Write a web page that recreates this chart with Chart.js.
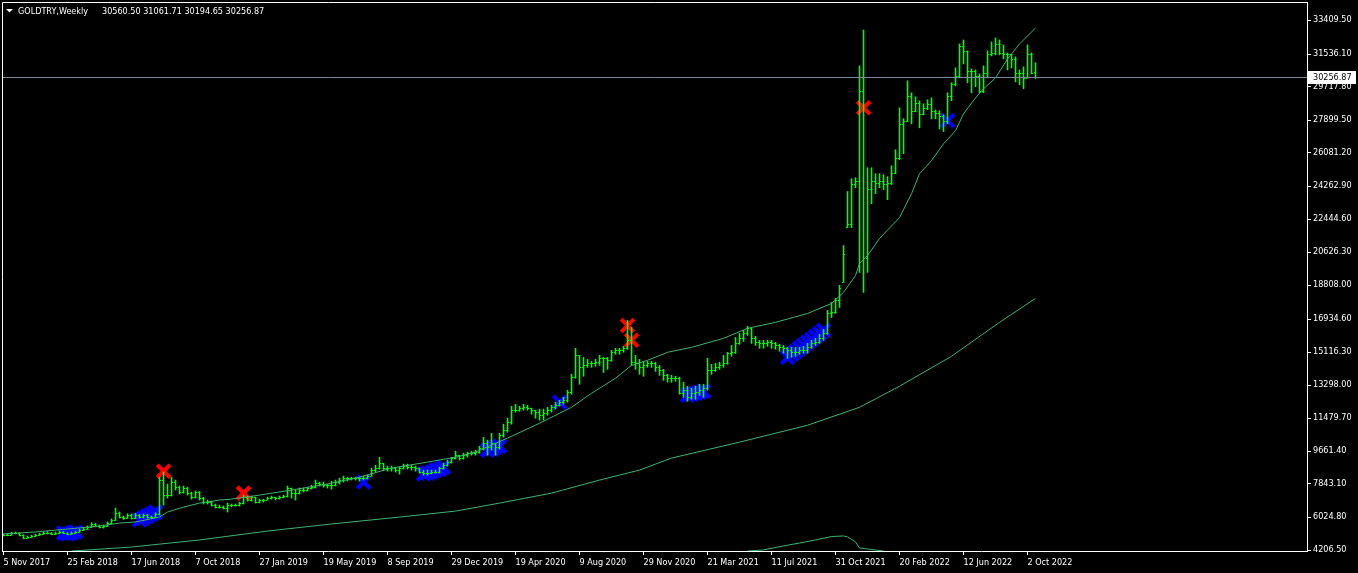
<!DOCTYPE html>
<html>
<head>
<meta charset="utf-8">
<title>GOLDTRY,Weekly</title>
<script src="https://cdn.jsdelivr.net/npm/chart.js@4.4.1/dist/chart.umd.min.js"></script>
<style>
html,body{margin:0;padding:0;background:#000;overflow:hidden;}
canvas{display:block;}
</style>
</head>
<body>
<canvas id="chart" width="1358" height="573"></canvas>
<script>
const symbolName = "GOLDTRY,Weekly";
const lastBarQuote = ["30560.50", "31061.71", "30194.65", "30256.87"];

const dateLabels = ["5 Nov 2017","25 Feb 2018","17 Jun 2018","7 Oct 2018","27 Jan 2019","19 May 2019","8 Sep 2019","29 Dec 2019","19 Apr 2020","9 Aug 2020","29 Nov 2020","21 Mar 2021","11 Jul 2021","31 Oct 2021","20 Feb 2022","12 Jun 2022","2 Oct 2022"];
const dateLabelIdx = [0,16,32,48,64,80,96,112,128,144,160,176,192,208,224,240,256];

const priceTicks = [4206.5,6024.8,7843.1,9661.4,11479.7,13298.0,15116.3,16934.6,18808.0,20626.3,22444.6,24262.9,26081.2,27899.5,29717.8,31536.1,33409.5];

const opens = [5000,5030,5030,5140,5140,5030,4870,4920,4980,5030,
5090,5140,5140,5090,5140,5200,5140,5090,5140,5200,
5310,5360,5470,5640,5530,5470,5530,5690,5860,6240,
6020,5970,6130,5970,6130,6020,6130,6020,6020,6190,
8060,7230,7230,7950,7670,7400,7620,7340,7120,7400,
7070,6850,6850,6680,6570,6570,6520,6680,6680,6680,
6790,7120,6960,7120,6850,6960,6960,7070,7120,7070,
7120,7180,7620,7340,7340,7510,7510,7620,7670,7890,
7840,7780,7780,7780,7950,8060,8170,8170,8170,8170,
8170,8170,8280,8610,8720,8990,8720,8720,8720,8610,
8720,8830,8770,8770,8720,8500,8440,8440,8500,8500,
8720,8880,9050,9270,9430,9270,9430,9540,9540,9600,
9820,10090,9870,10090,9870,10530,10810,11250,11910,11910,
12020,12070,12020,11910,11800,11630,11740,11910,12070,12180,
12350,12460,12900,13720,14930,14270,14380,14490,14490,14550,
14770,14770,14660,15100,15210,15210,15320,15760,14550,14490,
14270,14380,14490,14490,14270,14110,13830,13670,13670,13670,
12840,13010,12620,12840,12900,13010,13120,14110,14110,14270,
14380,14490,15040,15100,15590,15870,16140,16420,15870,15650,
15590,15590,15650,15590,15480,15370,15320,15210,15100,15100,
15210,15210,15370,15590,15650,15870,16140,17240,17300,17960,
18950,22000,22190,24390,24560,29510,20320,24120,24560,24450,
24560,24390,24450,25000,25820,27690,27860,29230,28410,28850,
28240,28570,28790,28410,28300,28130,27860,29230,29890,30330,
31980,31710,30610,30610,30330,29510,30500,31540,31600,32090,
31600,31540,31540,31270,30500,30500,30220,31540,30560.50];

const highs = [5090,5100,5190,5200,5160,5050,4980,5020,5070,5130,
5200,5220,5170,5190,5260,5230,5170,5200,5250,5360,
5420,5530,5710,5670,5580,5580,5750,5920,6520,6300,
6080,6200,6190,6220,6160,6190,6170,6080,6260,8220,
8500,7840,8220,8060,7730,7730,7670,7400,7460,7430,
7120,6960,6900,6740,6680,6630,6790,6740,6740,6850,
7230,7180,7180,7120,7010,7010,7120,7180,7120,7180,
7230,7730,7620,7510,7620,7620,7670,7780,8060,7950,
7950,7840,8000,8060,8170,8280,8220,8220,8220,8220,
8280,8330,8720,8880,9320,8990,8830,8830,8770,8770,
8940,8940,8880,8830,8720,8610,8610,8610,8610,8770,
8990,9160,9320,9650,9430,9540,9600,9650,9710,9930,
10420,10260,10640,10090,10640,11140,11470,12130,12240,12130,
12240,12180,12020,11910,11970,11970,12070,12180,12350,12460,
12620,13010,13890,15320,14930,14820,14710,14600,14710,14930,
14820,14820,15210,15320,15320,15430,16860,16470,14930,14710,
14600,14600,14600,14550,14380,14160,13890,13830,13780,13730,
13450,13230,13120,13230,13340,13340,14770,14440,14490,14550,
14930,15100,15480,15920,16140,16310,16530,16420,15980,15760,
15760,15760,15760,15650,15540,15480,15370,15370,15370,15370,
15430,15590,15760,15870,16090,16360,17410,17850,18070,18790,
20980,23960,24660,24720,30880,32860,25270,25270,24940,24940,
24890,24780,25380,26260,28570,27970,30060,29400,29180,28960,
28790,29010,29120,28460,28410,28190,29400,29950,30770,32090,
32310,31710,30710,30660,30440,30880,31710,32200,32420,32310,
32030,31600,31540,31380,30660,30830,32040,31600,31061.71];

const lows = [4980,4990,5010,5090,4980,4820,4840,4900,4950,5000,
5060,5090,5040,5060,5110,5100,5040,5060,5110,5170,
5270,5330,5440,5480,5420,5410,5500,5660,5830,5970,
5890,5940,5910,5940,5960,5970,5960,5940,5990,6130,
6680,7070,7180,7510,7290,7340,7230,7010,7070,6960,
6740,6740,6630,6520,6520,6460,6300,6580,6620,6630,
6740,6900,6900,6790,6800,6850,6960,7010,6960,7010,
7070,7120,7070,6960,7290,7400,7450,7560,7620,7730,
7670,7620,7560,7730,7840,7950,8010,8060,8060,8000,
8060,8110,8270,8500,8660,8610,8550,8550,8500,8390,
8660,8660,8610,8550,8440,8330,8330,8390,8440,8440,
8660,8830,8990,9210,9160,9210,9320,9430,9430,9540,
9710,9430,9710,9430,9760,10420,10700,11140,11800,11850,
11910,11910,11690,11470,11360,11360,11630,11800,11970,12130,
12240,12350,12790,13670,13340,13780,14270,14270,14330,14380,
13990,14160,14600,14990,14990,15100,15260,14380,14160,13890,
13780,14270,14270,14050,13830,13560,13450,13450,13510,12790,
12620,12400,12510,12510,12730,12620,13010,13890,14050,14160,
14270,14440,14880,15040,15540,15700,16030,15590,15480,15320,
15320,15430,15320,15270,15160,15050,14770,14820,14880,14990,
15050,15050,15320,15480,15590,15760,16090,17020,17240,17570,
18950,21970,21970,24170,19500,18400,19500,23290,23840,24170,
24060,23510,24340,24940,25710,26040,27800,27690,28350,27470,
28180,28470,27960,27960,27400,27260,27690,28960,29780,30220,
30990,29950,29400,29730,29400,29400,30220,31430,31490,31490,
31270,30660,30770,30000,29840,29620,30220,30440,30194.65];

const closes = [5030,5030,5140,5140,5030,4870,4920,4980,5030,5090,
5140,5140,5090,5140,5200,5140,5090,5140,5200,5310,
5360,5470,5640,5530,5470,5530,5690,5860,6240,6020,
5970,6130,5970,6130,6020,6130,6020,6020,6190,8060,
7230,7230,7950,7670,7400,7620,7340,7120,7400,7070,
6850,6850,6680,6570,6570,6520,6680,6680,6680,6790,
7120,6960,7120,6850,6960,6960,7070,7120,7070,7120,
7180,7620,7340,7340,7510,7510,7620,7670,7890,7840,
7780,7780,7780,7950,8060,8170,8170,8170,8170,8170,
8170,8280,8610,8720,8990,8720,8720,8720,8610,8720,
8830,8770,8770,8720,8500,8440,8440,8500,8500,8720,
8880,9050,9270,9430,9270,9430,9540,9540,9600,9820,
10090,9870,10090,9870,10530,10810,11250,11910,11910,12020,
12070,12020,11910,11800,11630,11740,11910,12070,12180,12350,
12460,12900,13720,14930,14270,14380,14490,14490,14550,14770,
14770,14660,15100,15210,15210,15320,15760,14550,14490,14270,
14380,14490,14490,14270,14110,13830,13670,13670,13670,12840,
13010,12620,12840,12900,13010,13120,14110,14110,14270,14380,
14490,15040,15100,15590,15870,16140,16420,15870,15650,15590,
15590,15650,15590,15480,15370,15320,15210,15100,15100,15210,
15210,15370,15590,15650,15870,16140,17240,17300,17960,18620,
20540,22190,24390,24560,29510,20320,24120,24560,24450,24560,
24390,24450,25000,25820,27690,27860,29230,28410,28850,28240,
28570,28790,28410,28300,28130,27860,29230,29890,30330,31980,
31710,30610,30610,30330,29510,30500,31540,31600,32090,31600,
31540,31540,31270,30500,30500,30220,31540,30500,30256.87];

// moving averages (bar index -> value)
const maFastIdx = [0,8,16,24,29,33,39,41,45,49,54,57,64,72,81,89,97,106,113,118,126,134,142,147,153,157,161,166,172,180,186,193,201,207,210,213,214,216,219,224,227,229,232,235,238,240,243,245,248,251,254,258];
const maFastVal = [5090,5200,5360,5530,5690,5750,6020,6300,6570,6790,6960,7010,7230,7510,7840,8220,8720,9050,9320,9600,10370,11190,12070,12840,13670,14380,14660,15100,15370,15870,16420,16750,17240,17790,18400,19330,19990,20430,21370,22520,23840,24940,25660,26590,27310,28240,29120,29620,30220,31270,32090,32970];

const maSlowIdx = [17,32,49,66,82,99,113,124,137,149,159,167,184,201,214,224,237,249,258];
const maSlowVal = [4150,4370,4760,5250,5640,6020,6350,6790,7340,8060,8610,9270,10150,11080,12070,13230,14880,16750,18070];

const maLowIdx = [186,190,195,199,203,207,210,211,213,214,216,220];
const maLowVal = [4150,4210,4430,4590,4760,4950,4980,4930,4650,4320,4260,4150];

// arrow objects
const redIdx = [40,60,156,157,215];
const redVal = [8550,7340,16580,15760,28570];
const blueIdx = [15,16,17,18,34,35,36,37,38,90,105,106,107,108,109,110,121,122,123,124,139,171,172,173,174,175,196,197,198,199,200,201,202,203,204,205,236];
const blueVal = [5140,5090,5140,5200,5860,5970,6080,6190,6300,7950,8390,8440,8500,8610,8660,8770,9710,9760,9870,9930,12350,12730,12790,12840,12900,12950,14820,14990,15150,15320,15480,15650,15810,15980,16140,16310,27860];

const FONT = "'DejaVu Sans Condensed','DejaVu Sans','Liberation Sans',sans-serif";
const barColor = '#14f014';
const maColor = '#3cb371';
const lastPrice = closes[closes.length - 1];

const bgPlugin = {
  id: 'bg',
  beforeDraw(chart) {
    const ctx = chart.ctx;
    ctx.save();
    ctx.fillStyle = '#000';
    ctx.fillRect(0, 0, chart.width, chart.height);
    ctx.restore();
  },
  afterDatasetsDraw(chart) {
    const { ctx, chartArea, scales: { y } } = chart;
    const py = Math.round(y.getPixelForValue(lastPrice)) + 0.5;
    ctx.save();
    ctx.strokeStyle = '#778899';
    ctx.lineWidth = 1;
    ctx.beginPath();
    ctx.moveTo(chartArea.left, py);
    ctx.lineTo(chartArea.right, py);
    ctx.stroke();
    ctx.restore();
  }
};

const ohlcTicks = {
  id: 'ohlcTicks',
  afterDatasetDraw(chart, args) {
    if (args.meta.type !== 'bar') return;
    const { ctx, chartArea, scales: { x, y } } = chart;
    ctx.save();
    ctx.beginPath();
    ctx.rect(chartArea.left, chartArea.top, chartArea.width, chartArea.height);
    ctx.clip();
    ctx.fillStyle = barColor;
    for (let i = 0; i < closes.length; i++) {
      const px = Math.floor(x.getPixelForValue(i));
      const yo = Math.round(y.getPixelForValue(opens[i]));
      const yc = Math.round(y.getPixelForValue(closes[i]));
      ctx.fillRect(px - 1, yo, 1, 1);
      ctx.fillRect(px + 1, yc, 1, 1);
    }
    ctx.restore();
  }
};

const framePlugin = {
  id: 'frame',
  afterDraw(chart) {
    const { ctx, chartArea, scales: { y } } = chart;
    ctx.save();
    ctx.strokeStyle = '#ffffff';
    ctx.lineWidth = 1;
    ctx.beginPath();
    ctx.moveTo(chartArea.left + 0.5, chartArea.bottom);
    ctx.lineTo(chartArea.left + 0.5, chartArea.top + 0.5);
    ctx.lineTo(chartArea.right, chartArea.top + 0.5);
    ctx.stroke();

    // current price box on the axis
    const py = Math.round(y.getPixelForValue(lastPrice));
    ctx.fillStyle = '#ffffff';
    ctx.fillRect(chartArea.right + 1, py - 6, 48, 13);
    ctx.fillStyle = '#000000';
    ctx.font = '9px ' + FONT;
    ctx.textBaseline = 'middle';
    ctx.textAlign = 'left';
    ctx.fillText(lastPrice.toFixed(2), chartArea.right + 6, py + 0.5);

    // title
    ctx.fillStyle = '#ffffff';
    ctx.beginPath();
    ctx.moveTo(6, 9);
    ctx.lineTo(13, 9);
    ctx.lineTo(9.5, 12.5);
    ctx.closePath();
    ctx.fill();
    ctx.textBaseline = 'alphabetic';
    ctx.fillText(symbolName, 18, 14);
    ctx.fillText(lastBarQuote.join(' '), 102, 14);
    ctx.restore();
  }
};

const chart = new Chart(document.getElementById('chart'), {
  type: 'bar',
  data: {
    datasets: [
      {
        type: 'bar', label: 'GOLDTRY',
        data: closes.map((c, i) => ({ x: i, y: [lows[i], highs[i]] })),
        backgroundColor: barColor, borderWidth: 0, barThickness: 1, grouped: false, order: 5
      },
      {
        type: 'line', label: 'MA fast',
        data: maFastIdx.map((v, k) => ({ x: v, y: maFastVal[k] })),
        borderColor: maColor, borderWidth: 1, pointRadius: 0, tension: 0, fill: false, order: 1
      },
      {
        type: 'line', label: 'MA slow',
        data: maSlowIdx.map((v, k) => ({ x: v, y: maSlowVal[k] })),
        borderColor: maColor, borderWidth: 1, pointRadius: 0, tension: 0, fill: false, order: 1
      },
      {
        type: 'line', label: 'MA low',
        data: maLowIdx.map((v, k) => ({ x: v, y: maLowVal[k] })),
        borderColor: maColor, borderWidth: 1, pointRadius: 0, tension: 0, fill: false, order: 1
      },
      {
        type: 'scatter', label: 'sell',
        data: redIdx.map((v, k) => ({ x: v, y: redVal[k] })),
        pointStyle: 'crossRot', pointRadius: 9, pointBorderWidth: 4,
        pointBorderColor: '#ff0000', pointBackgroundColor: '#ff0000', borderColor: '#ff0000', order: 9
      },
      {
        type: 'scatter', label: 'buy',
        data: blueIdx.map((v, k) => ({ x: v, y: blueVal[k] })),
        pointStyle: 'crossRot', pointRadius: 9, pointBorderWidth: 4,
        pointBorderColor: '#0000ff', pointBackgroundColor: '#0000ff', borderColor: '#0000ff', order: 10
      }
    ]
  },
  options: {
    responsive: false,
    devicePixelRatio: 1,
    animation: false,
    events: [],
    layout: { autoPadding: false, padding: { left: 2, top: 2, right: 0, bottom: 0 } },
    plugins: { legend: { display: false }, tooltip: { enabled: false } },
    scales: {
      x: {
        type: 'linear', position: 'bottom', min: -0.375, max: 325.875, offset: false,
        afterBuildTicks: s => { s.ticks = dateLabelIdx.map(v => ({ value: v })); },
        afterFit: s => { s.height = 22; s.paddingLeft = 0; s.paddingRight = 0; },
        ticks: {
          autoSkip: false, maxRotation: 0, minRotation: 0, align: 'start', padding: 2,
          color: '#ffffff', font: { family: FONT, size: 9 },
          callback: v => dateLabels[dateLabelIdx.indexOf(v)]
        },
        grid: { drawOnChartArea: false, drawTicks: true, tickLength: 4, color: '#ffffff', tickColor: '#ffffff', offset: false },
        border: { display: true, color: '#ffffff', width: 1 }
      },
      y: {
        type: 'linear', position: 'right', min: 4151.4, max: 34401.3,
        afterBuildTicks: s => { s.ticks = priceTicks.map(v => ({ value: v })); },
        afterFit: s => { s.width = 51; s.paddingTop = 0; s.paddingBottom = 0; },
        ticks: {
          autoSkip: false, padding: 2, color: '#ffffff', font: { family: FONT, size: 9 },
          callback: v => Number(v).toFixed(2)
        },
        grid: { drawOnChartArea: false, drawTicks: true, tickLength: 4, color: '#ffffff', tickColor: '#ffffff' },
        border: { display: true, color: '#ffffff', width: 1 }
      }
    }
  },
  plugins: [bgPlugin, ohlcTicks, framePlugin]
});
</script>
</body>
</html>
